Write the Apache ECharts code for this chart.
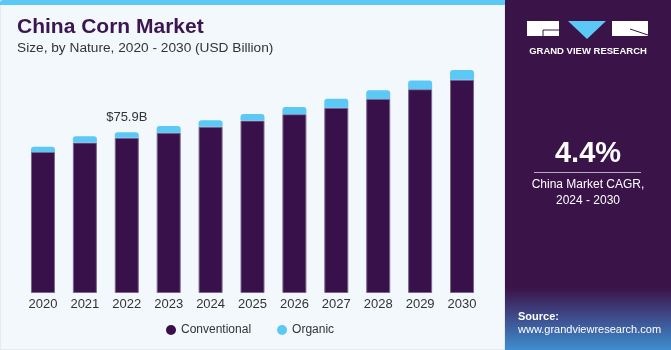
<!DOCTYPE html>
<html><head><meta charset="utf-8">
<script src="https://cdn.jsdelivr.net/npm/echarts@6/dist/echarts.min.js"></script>
<style>html,body{margin:0;padding:0;background:#fff}#c{width:671px;height:350px}</style>
</head><body><div id="c"></div>
<script>
const years = ['2020','2021','2022','2023','2024','2025','2026','2027','2028','2029','2030'];
const conventional = [66.6, 71.0, 73.3, 75.7, 78.5, 81.4, 84.4, 87.5, 91.6, 96.2, 100.7];
const organic = [2.4, 3.0, 2.6, 3.1, 3.0, 3.1, 3.4, 4.2, 4.1, 4.1, 4.6];
const labelYear = '2022';
const labelText = '$75.9B';

const chart = echarts.init(document.getElementById('c'), null, {renderer:'canvas'});
const FONT = 'Liberation Sans, Arial, sans-serif';
const organicData = organic.map((v,i)=> years[i]===labelYear ? {value:v, label:{show:true, formatter:labelText, position:'top', distance:8, color:'#333', fontSize:13, fontFamily:FONT}} : v);

chart.setOption({
  animation:false,
  backgroundColor:'#ffffff',
  graphic:[
    {type:'rect', z:-10, shape:{x:0,y:0,width:505,height:350}, style:{fill:'#f3f8fc', stroke:'#d8dde2', lineWidth:1}},
    {type:'rect', z:-9, shape:{x:0,y:0,width:505,height:5, r:[3,0,0,0]}, style:{fill:'#5bc8f5'}},
    {type:'text', left:17, top:17, style:{text:'China Corn Market', fill:'#3b1650', font:'bold 21px '+FONT}},
    {type:'text', left:17, top:41, style:{text:'Size, by Nature, 2020 - 2030 (USD Billion)', fill:'#333', font:'13.7px '+FONT}},
    {type:'rect', z:-10, shape:{x:505,y:0,width:166,height:350}, style:{fill:'#3a1449'}},
    {type:'rect', z:-9, shape:{x:505,y:288,width:166,height:62}, style:{fill:{type:'linear',x:0,y:0,x2:0,y2:1,colorStops:[{offset:0,color:'#3a1449'},{offset:0.5,color:'#3e4f8f'},{offset:1,color:'#3d8fd0'}]}}},
    {type:'rect', shape:{x:527,y:21,width:32,height:15}, style:{fill:'#ffffff'}},
    {type:'line', shape:{x1:543,y1:30,x2:559,y2:30}, style:{stroke:'#3a1449', lineWidth:1}},
    {type:'line', shape:{x1:543,y1:30,x2:543,y2:36}, style:{stroke:'#3a1449', lineWidth:1}},
    {type:'polygon', shape:{points:[[568,21],[606,21],[587,39]]}, style:{fill:'#5bc8f5'}},
    {type:'rect', shape:{x:612,y:21,width:36,height:15}, style:{fill:'#ffffff'}},
    {type:'line', shape:{x1:630,y1:29,x2:648,y2:35}, style:{stroke:'#3a1449', lineWidth:1}},
    {type:'text', x:588, y:51, style:{text:'GRAND VIEW RESEARCH', fill:'#ffffff', font:'bold 9.5px '+FONT, align:'center', verticalAlign:'middle'}},
    {type:'text', x:588, y:154, style:{text:'4.4%', fill:'#ffffff', font:'bold 29px '+FONT, align:'center', verticalAlign:'middle'}},
    {type:'line', shape:{x1:534,y1:172.5,x2:641,y2:172.5}, style:{stroke:'#b9a9c9', lineWidth:1}},
    {type:'text', x:588, y:185, style:{text:'China Market CAGR,', fill:'#ffffff', font:'12px '+FONT, align:'center', verticalAlign:'middle'}},
    {type:'text', x:588, y:201, style:{text:'2024 - 2030', fill:'#ffffff', font:'12px '+FONT, align:'center', verticalAlign:'middle'}},
    {type:'text', x:518, y:317, style:{text:'Source:', fill:'#ffffff', font:'bold 11px '+FONT, verticalAlign:'middle'}},
    {type:'text', x:518, y:330, style:{text:'www.grandviewresearch.com', fill:'#ffffff', font:'11px '+FONT, verticalAlign:'middle'}}
  ],
  legend:{
    data:['Conventional','Organic'], left:161, top:319, itemWidth:10, itemHeight:10, icon:'circle', itemGap:26,
    itemStyle:{borderWidth:0},
    textStyle:{color:'#333', fontSize:12, fontFamily:FONT}
  },
  grid:{left:22, right:188, top:60, bottom:57},
  xAxis:{type:'category', data:years, axisLine:{show:false}, axisTick:{show:false},
    axisLabel:{color:'#333', fontSize:13, fontFamily:FONT, margin:5}},
  yAxis:{type:'value', min:0, max:110, show:false, splitLine:{show:false}},
  series:[
    {name:'Conventional', type:'bar', stack:'t', barWidth:24, data:conventional,
      itemStyle:{color:'#38104a', borderColor:'#7a6690', borderWidth:1}},
    {name:'Organic', type:'bar', stack:'t', barWidth:24, data:organicData,
      itemStyle:{color:'#5bc8f5', borderRadius:[3,3,0,0]}}
  ]
});
</script></body></html>
